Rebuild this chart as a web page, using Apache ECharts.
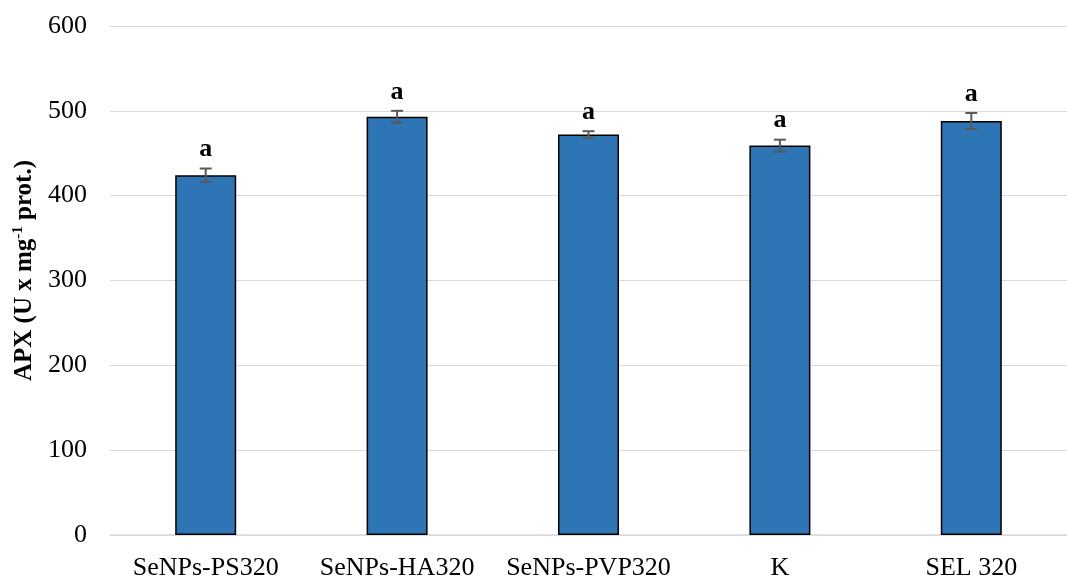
<!DOCTYPE html>
<html>
<head>
<meta charset="utf-8">
<script src="https://cdn.jsdelivr.net/npm/echarts@6/dist/echarts.min.js"></script>
<style>
html, body { margin: 0; padding: 0; background: #fff; }
#main { width: 1067px; height: 581px; }
</style>
</head>
<body>
<div id="main"></div>
<script>
// kategorie i wartosci APX
var categories = ['SeNPs-PS320', 'SeNPs-HA320', 'SeNPs-PVP320', 'K', 'SEL 320'];
var apxValues = [424, 493, 472, 459, 488];
var apxErrors = [8, 7, 4, 7, 9.5];
var letters = ['a', 'a', 'a', 'a', 'a'];

var serif = '"Liberation Serif", "Times New Roman", serif';

var errData = [];
for (var i = 0; i < apxValues.length; i++) {
    errData.push([i, apxValues[i], apxErrors[i]]);
}

function renderError(params, api) {
    var idx = api.value(0);
    var v = api.value(1);
    var e = api.value(2);
    var hi = api.coord([idx, v + e]);
    var lo = api.coord([idx, v - e]);
    var half = 6;
    var st = { stroke: '#595959', lineWidth: 2 };
    return {
        type: 'group',
        children: [
            { type: 'line', shape: { x1: hi[0], y1: hi[1], x2: lo[0], y2: lo[1] }, style: st },
            { type: 'line', shape: { x1: hi[0] - half, y1: hi[1], x2: hi[0] + half, y2: hi[1] }, style: st },
            { type: 'line', shape: { x1: lo[0] - half, y1: lo[1], x2: lo[0] + half, y2: lo[1] }, style: st },
            {
                type: 'text',
                style: {
                    text: letters[params.dataIndex],
                    x: hi[0], y: hi[1] - 19,
                    align: 'center', verticalAlign: 'middle',
                    fontSize: 26, fontWeight: 'bold', fontFamily: serif,
                    fill: '#000'
                }
            }
        ]
    };
}

var myChart = echarts.init(document.getElementById('main'));
var option = {
    animation: false,
    backgroundColor: '#fff',
    grid: { left: 110, right: -13, top: 26, bottom: 42.5, containLabel: false },
    xAxis: {
        type: 'category',
        data: categories,
        axisTick: { show: false },
        axisLine: { lineStyle: { color: '#d9d9d9', width: 1.5 } },
        axisLabel: { color: '#000', fontSize: 26, fontFamily: serif, margin: 20, interval: 0 }
    },
    yAxis: {
        type: 'value',
        min: 0, max: 600, interval: 100,
        name: '{t|APX (U x mg}{s|-1}{t| prot.)}',
        nameLocation: 'middle',
        nameGap: 68,
        nameTextStyle: {
            padding: [0, 0, 0, 20],
            rich: {
                t: { fontSize: 25, fontWeight: 'bold', fontFamily: serif, color: '#000', lineHeight: 28 },
                s: { fontSize: 15, fontWeight: 'bold', fontFamily: serif, color: '#000', lineHeight: 28, verticalAlign: 'top' }
            }
        },
        axisLine: { show: false },
        axisTick: { show: false },
        axisLabel: { color: '#000', fontSize: 26, fontFamily: serif, margin: 23 },
        splitLine: { lineStyle: { color: '#d9d9d9', width: 1.2 } }
    },
    series: [
        {
            type: 'bar',
            data: apxValues,
            barWidth: 61,
            itemStyle: { color: '#2e75b6', borderColor: '#000', borderWidth: 1.5 }
        },
        {
            type: 'custom',
            renderItem: renderError,
            data: errData,
            encode: { x: 0, y: 1 },
            z: 10
        }
    ]
};
myChart.setOption(option);
</script>
</body>
</html>
